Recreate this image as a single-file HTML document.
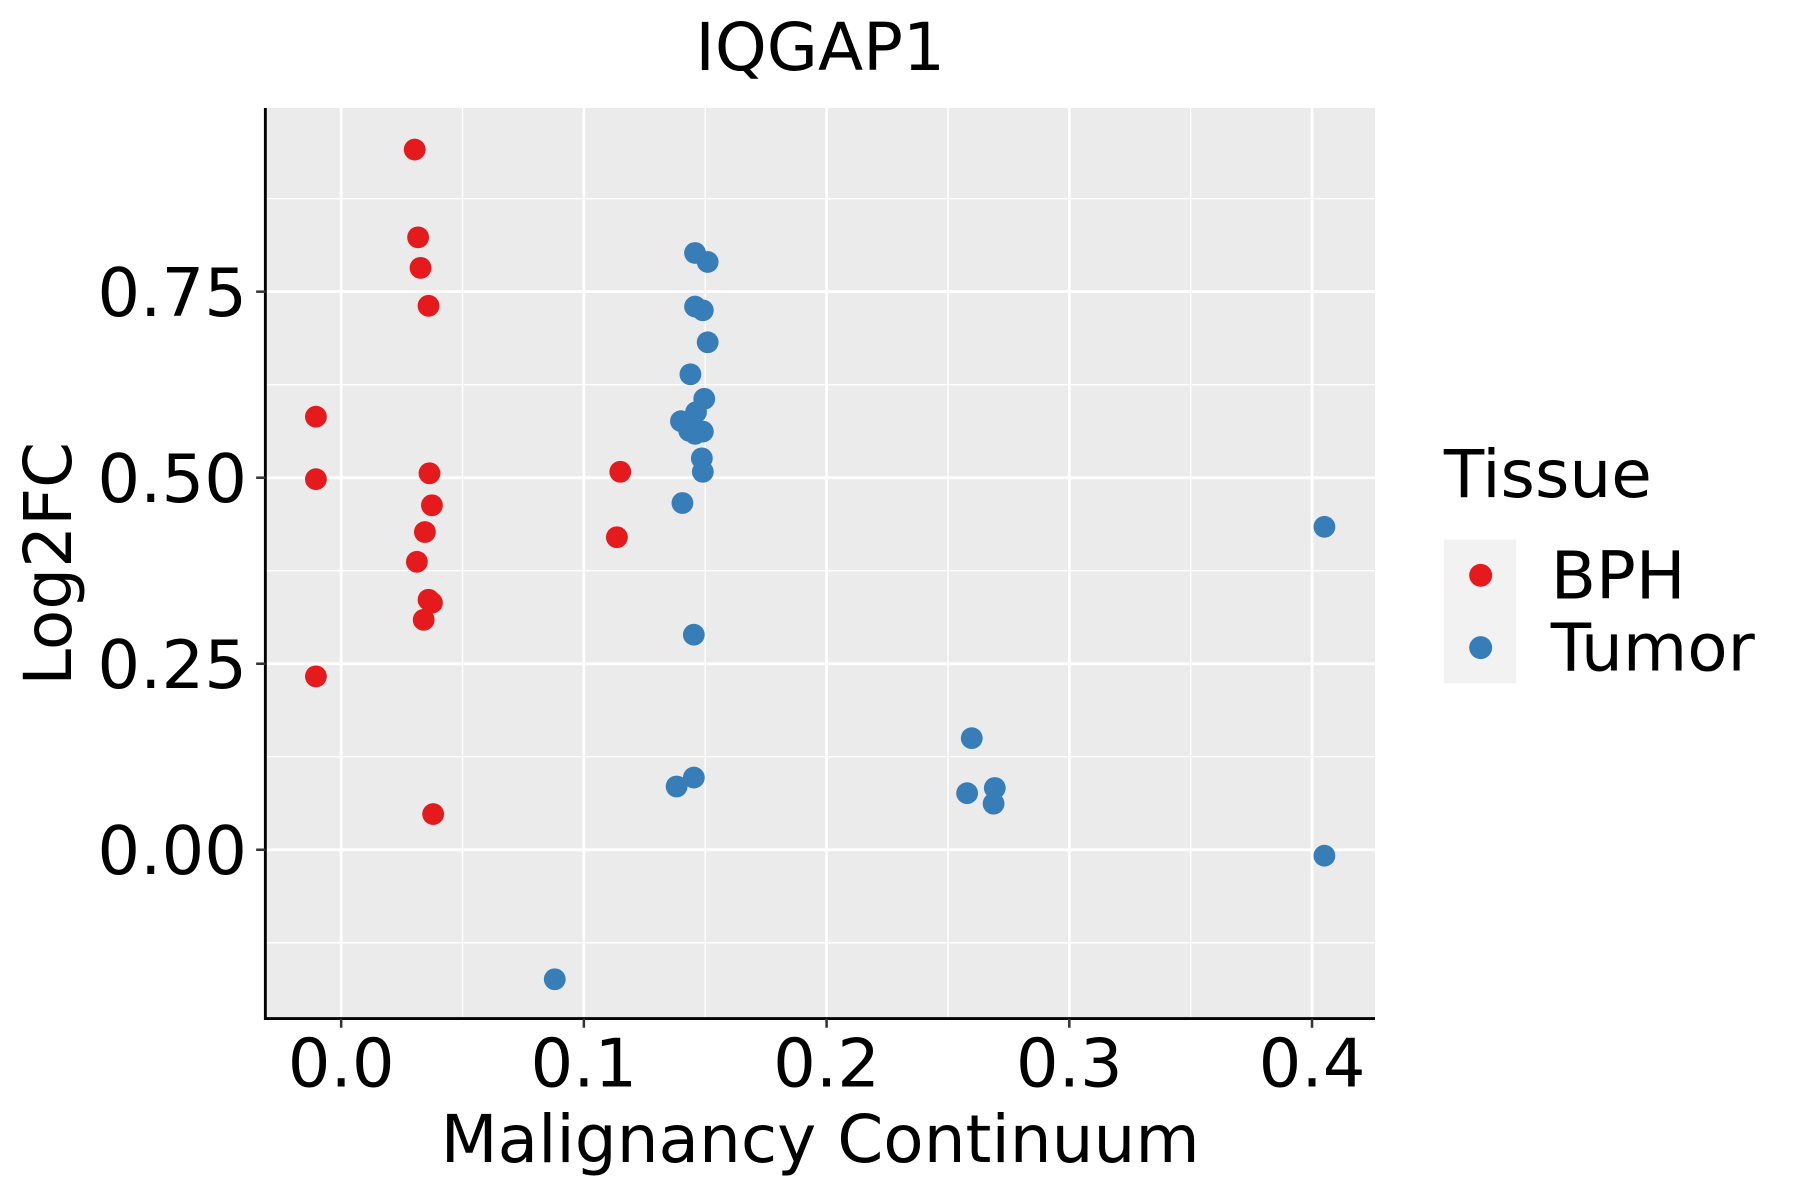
<!DOCTYPE html>
<html><head><meta charset="utf-8"><style>
html,body{margin:0;padding:0;background:#fff;}
svg{display:block;font-family:"DejaVu Sans","Liberation Sans",sans-serif;}
</style></head><body>
<svg id="chart" width="1800" height="1200" viewBox="0 0 1567 1045" preserveAspectRatio="none" xmlns="http://www.w3.org/2000/svg">
<rect x="0" y="0" width="1567" height="1045" fill="#fff"/>
<rect x="231" y="94" width="966" height="793" fill="#ebebeb"/>
<g id="grid"></g>
<g id="points"></g>
<line x1="231" y1="94" x2="231" y2="888" stroke="#000" stroke-width="2.5"/>
<line x1="230" y1="887" x2="1197" y2="887" stroke="#000" stroke-width="2.5"/>
<g id="ticks"></g>
<text x="714" y="61" font-size="57.5" text-anchor="middle">IQGAP1</text>
<text x="714" y="1012" font-size="57.5" text-anchor="middle">Malignancy Continuum</text>
<text transform="translate(62,491) rotate(-90)" font-size="57.5" text-anchor="middle">Log2FC</text>
<g>
<text x="1257" y="433" font-size="57.5">Tissue</text>
<rect x="1257" y="470" width="63" height="125" fill="#f2f2f2"/>
<circle cx="1289" cy="501" r="10" fill="#E41A1C"/>
<circle cx="1289" cy="564" r="10" fill="#377EB8"/>
<text x="1350" y="521" font-size="57.5">BPH</text>
<text x="1350" y="584" font-size="57.5">Tumor</text>
</g>
</svg>
<script>
const xTicks = [0.0, 0.1, 0.2, 0.3, 0.4];
const xTickLabels = ["0.0", "0.1", "0.2", "0.3", "0.4"];
const yTicks = [0.0, 0.25, 0.5, 0.75];
const yTickLabels = ["0.00", "0.25", "0.50", "0.75"];
const xMinor = [0.05, 0.15, 0.25, 0.35];
const yMinor = [-0.125, 0.125, 0.375, 0.625, 0.875];
const bphX = [0.0303, 0.0317, 0.0327, 0.036, -0.0104, -0.0104, 0.0364, 0.0374, 0.0345, 0.0312, 0.036, 0.0374, 0.034, -0.0104, 0.0379, 0.115, 0.1136];
const bphY = [0.941, 0.823, 0.782, 0.731, 0.582, 0.498, 0.506, 0.463, 0.427, 0.387, 0.336, 0.332, 0.309, 0.233, 0.048, 0.508, 0.420];
const tumorX = [0.1458, 0.151, 0.1458, 0.149, 0.151, 0.1439, 0.1496, 0.1462, 0.140, 0.1434, 0.1458, 0.149, 0.1486, 0.149, 0.1406, 0.1453, 0.2598, 0.1453, 0.1382, 0.2579, 0.2693, 0.2688, 0.088, 0.4051, 0.4051];
const tumorY = [0.802, 0.790, 0.730, 0.725, 0.682, 0.639, 0.606, 0.588, 0.576, 0.563, 0.559, 0.562, 0.526, 0.508, 0.466, 0.289, 0.150, 0.097, 0.085, 0.076, 0.083, 0.062, -0.174, 0.434, -0.008];

const NS = "http://www.w3.org/2000/svg";
function sx(v){ return 297 + v * 2113; }
function sy(v){ return 740 - v * 648; }
function mk(tag, attrs, parent){
  const e = document.createElementNS(NS, tag);
  for (const k in attrs) e.setAttribute(k, attrs[k]);
  parent.appendChild(e);
  return e;
}
const grid = document.getElementById('grid');
const ticks = document.getElementById('ticks');
const pts = document.getElementById('points');
xMinor.forEach(v => {
  const l = mk('line', {x1: sx(v), x2: sx(v), y1: 94, y2: 887, stroke: '#fff', 'stroke-width': 1.2}, grid);
  
  
});
yMinor.forEach(v => {
  const l = mk('line', {x1: 231, x2: 1197, y1: sy(v), y2: sy(v), stroke: '#fff', 'stroke-width': 1.2}, grid);
  
  
});
xTicks.forEach((v, i) => {
  const l = mk('line', {x1: sx(v), x2: sx(v), y1: 94, y2: 887, stroke: '#fff', 'stroke-width': 2.4}, grid);
  
  
  const t = mk('line', {x1: sx(v), x2: sx(v), y1: 887, y2: 895, stroke: '#333', 'stroke-width': 2.2}, ticks);
  
  
  const tx = mk('text', {x: sx(v), y: 946, 'font-size': 58.5, 'text-anchor': 'middle', fill: '#000'}, ticks);
  tx.textContent = xTickLabels[i];
  
  
});
yTicks.forEach((v, i) => {
  const l = mk('line', {x1: 231, x2: 1197, y1: sy(v), y2: sy(v), stroke: '#fff', 'stroke-width': 2.4}, grid);
  
  
  const t = mk('line', {x1: 223, x2: 231, y1: sy(v), y2: sy(v), stroke: '#333', 'stroke-width': 2.2}, ticks);
  
  
  const tx = mk('text', {x: 215, y: sy(v) + 21, 'font-size': 58.5, 'text-anchor': 'end', fill: '#000'}, ticks);
  tx.textContent = yTickLabels[i];
  
  
});
bphX.forEach((v, i) => {
  const c = mk('circle', {cx: sx(v), cy: sy(bphY[i]), r: 9.5, fill: '#E41A1C'}, pts);
  
  
});
tumorX.forEach((v, i) => {
  const c = mk('circle', {cx: sx(v), cy: sy(tumorY[i]), r: 9.5, fill: '#377EB8'}, pts);
  
  
});
</script>
</body></html>
